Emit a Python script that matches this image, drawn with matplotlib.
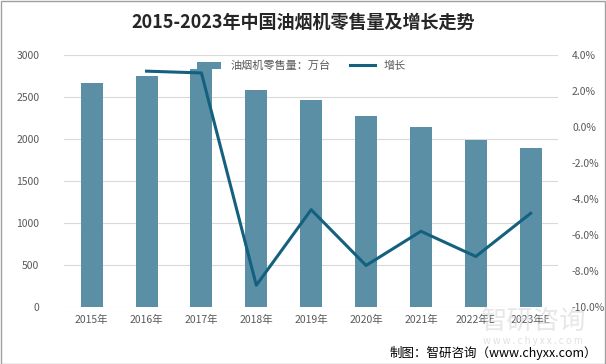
import matplotlib.pyplot as plt
import matplotlib.ticker as mticker
import numpy as np

plt.rcParams['font.family'] = ['Noto Sans CJK SC', 'DejaVu Sans']
plt.rcParams['axes.unicode_minus'] = False

years = ['2015年', '2016年', '2017年', '2018年', '2019年', '2020年', '2021年', '2022年E', '2023年E']
sales = [2667, 2750, 2833, 2583, 2464, 2274, 2143, 1988, 1893]
growth = [None, 3.1, 3.0, -8.8, -4.6, -7.7, -5.8, -7.2, -4.8]

bar_color = '#5b8fa6'
line_color = '#14607f'
tick_color = '#595959'

fig = plt.figure(figsize=(6.06, 3.64), dpi=100)
ax = fig.add_axes([0.106, 0.157, 0.815, 0.692])
x = np.arange(len(years))
ax.bar(x, sales, width=0.4, color=bar_color, label='油烟机零售量：万台', zorder=2)
ax.set_ylim(0, 3000)
ax.set_yticks(np.arange(0, 3001, 500))
ax.set_xlim(-0.5, len(years) - 0.5)
ax.set_xticks(x)
ax.set_xticklabels(years)
ax.grid(axis='y', color='#d9d9d9', linewidth=0.8, zorder=0)
ax.set_axisbelow(True)
for s in ax.spines.values():
    s.set_visible(False)
ax.tick_params(length=0, colors=tick_color, labelsize=7.5)
ax.tick_params(axis='y', pad=18)
ax.tick_params(axis='x', pad=6)

ax2 = ax.twinx()
gx = [i for i, g in enumerate(growth) if g is not None]
gy = [g for g in growth if g is not None]
ax2.plot(gx, gy, color=line_color, linewidth=2.2, label='增长', zorder=3)
ax2.set_ylim(-10, 4)
ax2.set_yticks(np.arange(-10, 4.1, 2))
ax2.yaxis.set_major_formatter(mticker.FuncFormatter(lambda v, p: '%.1f%%' % v))
for s in ax2.spines.values():
    s.set_visible(False)
ax2.tick_params(length=0, colors=tick_color, labelsize=7.5, pad=10)

h1, l1 = ax.get_legend_handles_labels()
h2, l2 = ax2.get_legend_handles_labels()
leg = ax.legend(h1 + h2, l1 + l2, loc='upper center', bbox_to_anchor=(0.48, 1.0),
                ncol=2, frameon=False, fontsize=8, handlelength=2.2,
                handleheight=0.6, columnspacing=1.8, borderaxespad=0.1)
for t in leg.get_texts():
    t.set_color(tick_color)
leg.set_zorder(5)

fig.text(0.5, 0.94, '2015-2023年中国油烟机零售量及增长走势', ha='center', va='center',
         fontsize=13, fontweight='bold', color='#262626')

# watermark
fig.text(0.88, 0.118, '智研咨询', ha='center', va='center', fontsize=19,
         color='#d0d4d8', alpha=0.55, zorder=0)
fig.text(0.88, 0.062, 'w w w . c h y x x . c o m', ha='center', va='center', fontsize=7,
         color='#d0d4d8', alpha=0.7)

fig.text(0.985, 0.03, '制图：智研咨询（www.chyxx.com）', ha='right', va='center',
         fontsize=9, color='#000000')

fig.patches.append(plt.Rectangle((0.001, 0.001), 0.997, 0.997, transform=fig.transFigure,
                                 fill=False, edgecolor='#a0a0a0', linewidth=1))

fig.savefig('out.png', dpi=100)
